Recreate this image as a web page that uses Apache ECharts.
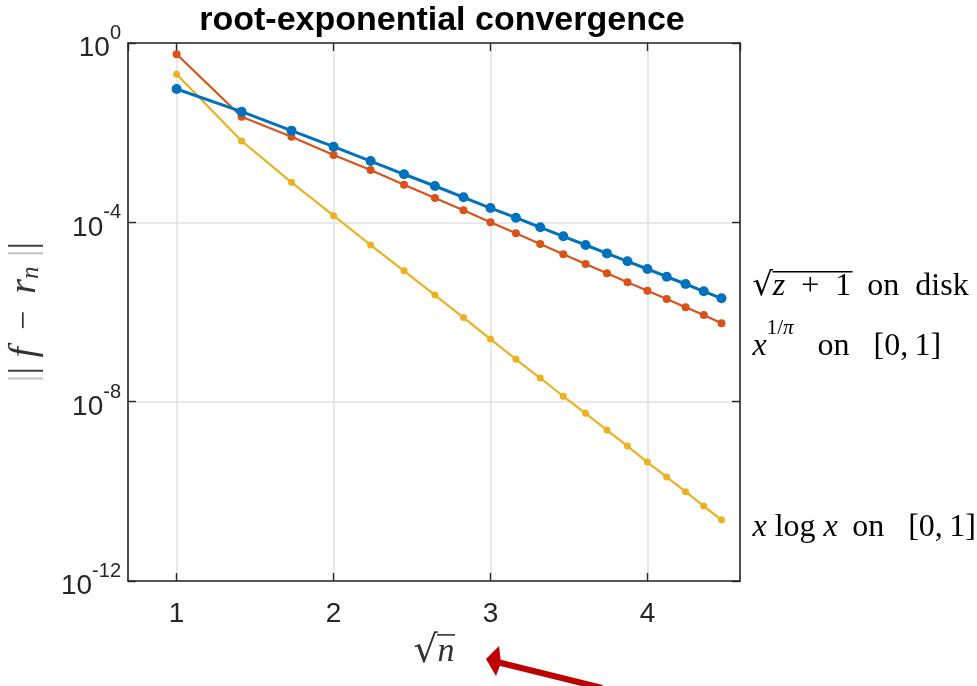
<!DOCTYPE html>
<html>
<head>
<meta charset="utf-8">
<script src="https://cdn.jsdelivr.net/npm/echarts@6/dist/echarts.min.js"></script>
<style>
html,body{margin:0;padding:0;background:#fff;}
#chart{width:977px;height:686px;}
</style>
</head>
<body>
<div id="chart"></div>
<script>
// x positions: sqrt(n), n = 1..20
const xVals = [1, 1.414, 1.732, 2, 2.236, 2.449, 2.646, 2.828, 3, 3.162, 3.317, 3.464, 3.606, 3.742, 3.873, 4, 4.123, 4.243, 4.359, 4.472];
// sqrt(z+1) on disk
const diskVals = [9.42e-2, 2.94e-2, 1.11e-2, 4.86e-3, 2.33e-3, 1.18e-3, 6.46e-4, 3.61e-4, 2.08e-4, 1.27e-4, 7.74e-5, 4.88e-5, 3.12e-5, 2.03e-5, 1.35e-5, 9.1e-6, 6.12e-6, 4.21e-6, 2.89e-6, 2.02e-6];
// x^(1/pi) on [0,1]
const powVals = [5.6e-1, 2.27e-2, 8.13e-3, 3.18e-3, 1.47e-3, 6.9e-4, 3.48e-4, 1.85e-4, 1.0e-4, 5.69e-5, 3.28e-5, 1.93e-5, 1.17e-5, 7.28e-6, 4.59e-6, 2.98e-6, 1.95e-6, 1.27e-6, 8.57e-7, 5.62e-7];
// x log x on [0,1]
const xlogxVals = [2.0e-1, 6.52e-3, 7.82e-4, 1.41e-4, 3.12e-5, 8.28e-6, 2.39e-6, 7.53e-7, 2.49e-7, 8.83e-8, 3.37e-8, 1.32e-8, 5.5e-9, 2.33e-9, 1.02e-9, 4.5e-10, 2.08e-10, 9.8e-11, 4.7e-11, 2.32e-11];
const xTickLabels = [1, 2, 3, 4];
const yTickExps = [0, -4, -8, -12];

const chart = echarts.init(document.getElementById('chart'), null, {renderer: 'canvas'});
const AX = '#262626';
const SERIF = '"Liberation Serif", "DejaVu Serif", serif';
const RADF = '"DejaVu Serif", serif';
const SANS = '"Liberation Sans", Arial, Helvetica, sans-serif';
const FS = 32;

function pairs(vals) { return xVals.map((x, i) => [x, vals[i]]); }

const diskRich = {
  sp: {width: 20, height: 2, lineHeight: 2, fontSize: 2, color: 'transparent'},
  bar: {width: 80, height: 1.6, lineHeight: 2, fontSize: 2, color: 'transparent', backgroundColor: '#000'},
  rad: {fontFamily: RADF, fontSize: FS, color: '#000', lineHeight: 27},
  i: {fontFamily: SERIF, fontStyle: 'italic', fontSize: FS, color: '#000', lineHeight: 27},
  r: {fontFamily: SERIF, fontSize: FS, color: '#000', lineHeight: 27}
};
const powRich = {
  base: {fontFamily: SERIF, fontStyle: 'italic', fontSize: FS, color: '#000', verticalAlign: 'bottom', lineHeight: 44},
  sup: {fontFamily: SERIF, fontSize: 21, color: '#000', verticalAlign: 'top'},
  supi: {fontFamily: SERIF, fontStyle: 'italic', fontSize: 21, color: '#000', verticalAlign: 'top'},
  rb: {fontFamily: SERIF, fontSize: FS, color: '#000', verticalAlign: 'bottom', lineHeight: 44}
};
const logRich = {
  i: {fontFamily: SERIF, fontStyle: 'italic', fontSize: FS, color: '#000'},
  r: {fontFamily: SERIF, fontSize: FS, color: '#000'}
};

function lineSeries(name, vals, color, width, size, label, rich, offset, z) {
  return {
    name: name,
    type: 'line',
    data: pairs(vals),
    symbol: 'circle',
    symbolSize: size,
    showSymbol: true,
    z: z,
    itemStyle: {color: color},
    lineStyle: {color: color, width: width},
    emphasis: {disabled: true},
    endLabel: {
      show: true,
      distance: 0,
      offset: offset,
      align: 'left',
      formatter: label,
      rich: rich
    }
  };
}

const option = {
  animation: false,
  backgroundColor: '#ffffff',
  title: {
    text: 'root-exponential convergence',
    left: 437,
    top: -1,
    textAlign: 'center',
    textStyle: {fontFamily: SANS, fontWeight: 'bold', fontSize: 34, color: '#000'}
  },
  grid: {left: 128, right: 237, top: 43, bottom: 105, containLabel: false, outerBoundsMode: 'none'},
  xAxis: [
    {
      type: 'value', min: 0.69, max: 4.59, position: 'bottom',
      axisLine: {show: true, onZero: false, lineStyle: {color: AX, width: 1.6}},
      axisTick: {show: true, inside: true, length: 8, lineStyle: {color: AX, width: 1.4}},
      axisLabel: {
        fontFamily: SANS, fontSize: 28, color: AX, margin: 19,
        showMinLabel: false, showMaxLabel: false,
        formatter: function (v) { return xTickLabels.indexOf(Math.round(v * 1000) / 1000) >= 0 ? String(Math.round(v)) : ''; }
      },
      splitLine: {show: true, lineStyle: {color: '#e2e2e2', width: 1.5}},
      name: '{sp| }{bar| }\n{rad|√}{i|n}',
      nameLocation: 'middle',
      nameGap: 49,
      nameTextStyle: {
        rich: {
          sp: {width: 24, height: 2, lineHeight: 2, fontSize: 2, color: 'transparent'},
          bar: {width: 18, height: 1.6, lineHeight: 2, fontSize: 2, color: 'transparent', backgroundColor: '#333'},
          rad: {fontFamily: RADF, fontSize: 38, color: '#333', lineHeight: 32},
          i: {fontFamily: SERIF, fontStyle: 'italic', fontSize: 34, color: '#333', lineHeight: 32}
        }
      }
    },
    {
      type: 'value', min: 0.69, max: 4.59, position: 'top',
      axisLine: {show: true, onZero: false, lineStyle: {color: AX, width: 1.6}},
      axisTick: {show: true, inside: true, length: 8, lineStyle: {color: AX, width: 1.4}},
      axisLabel: {show: false},
      splitLine: {show: false}
    }
  ],
  yAxis: [
    {
      type: 'log', logBase: 10, min: 1e-12, max: 1, interval: 4, position: 'left',
      axisLine: {show: true, onZero: false, lineStyle: {color: AX, width: 1.6}},
      axisTick: {show: true, inside: true, length: 8, lineStyle: {color: AX, width: 1.4}},
      minorTick: {show: false},
      axisLabel: {
        margin: 7,
        formatter: function (v) {
          const e = Math.round(Math.log10(v));
          return yTickExps.indexOf(e) >= 0 ? '{b|10}{s|' + e + '}' : '';
        },
        rich: {
          b: {fontFamily: SANS, fontSize: 28, color: AX, verticalAlign: 'bottom', lineHeight: 39},
          s: {fontFamily: SANS, fontSize: 20, color: AX, verticalAlign: 'top'}
        }
      },
      splitLine: {show: true, lineStyle: {color: '#e2e2e2', width: 1.5}},
      name: '{l||}{d||}{i| f}{t|  −  }{i|r}{sub|n}{l| |}{d||}',
      nameLocation: 'middle',
      nameGap: 84,
      nameTextStyle: {
        rich: {
          l: {fontFamily: SERIF, fontSize: 38, color: '#c4c4c4'},
          d: {fontFamily: SERIF, fontSize: 38, color: '#404040'},
          i: {fontFamily: SERIF, fontStyle: 'italic', fontSize: 38, color: '#333'},
          t: {fontFamily: SERIF, fontSize: 34, color: '#333'},
          sub: {fontFamily: SERIF, fontStyle: 'italic', fontSize: 25, color: '#333', verticalAlign: 'bottom', lineHeight: 25}
        }
      }
    },
    {
      type: 'log', logBase: 10, min: 1e-12, max: 1, interval: 4, position: 'right',
      axisLine: {show: true, onZero: false, lineStyle: {color: AX, width: 1.6}},
      axisTick: {show: true, inside: true, length: 8, lineStyle: {color: AX, width: 1.4}},
      minorTick: {show: false},
      axisLabel: {show: false},
      splitLine: {show: false}
    }
  ],
  series: [
    lineSeries('xlogx', xlogxVals, '#EDB120', 2.2, 7,
      '{i|x}{r| log }{i|x}{r| \u2009on   [0,\u20091]}', logRich, [31, 8], 2),
    lineSeries('pow', powVals, '#D95319', 2.2, 8,
      '{base|x}{sup|1/}{supi|π}{rb|   on   [0,\u20091]}', powRich, [31, 17], 3),
    lineSeries('disk', diskVals, '#0072BD', 3, 10,
      '{sp| }{bar| }\n{rad|√}{i|z}{r|  +  1  on  disk}', diskRich, [31, -13], 4)
  ],
  graphic: [
    {
      type: 'line', silent: true, z: 100,
      shape: {x1: 497, y1: 662, x2: 602, y2: 688},
      style: {stroke: '#BF0000', lineWidth: 6}
    },
    {
      type: 'polygon', silent: true, z: 101,
      shape: {points: [[486, 659], [499, 646], [501, 663], [496, 676]]},
      style: {fill: '#BF0000'}
    }
  ]
};
chart.setOption(option);
</script>
</body>
</html>
